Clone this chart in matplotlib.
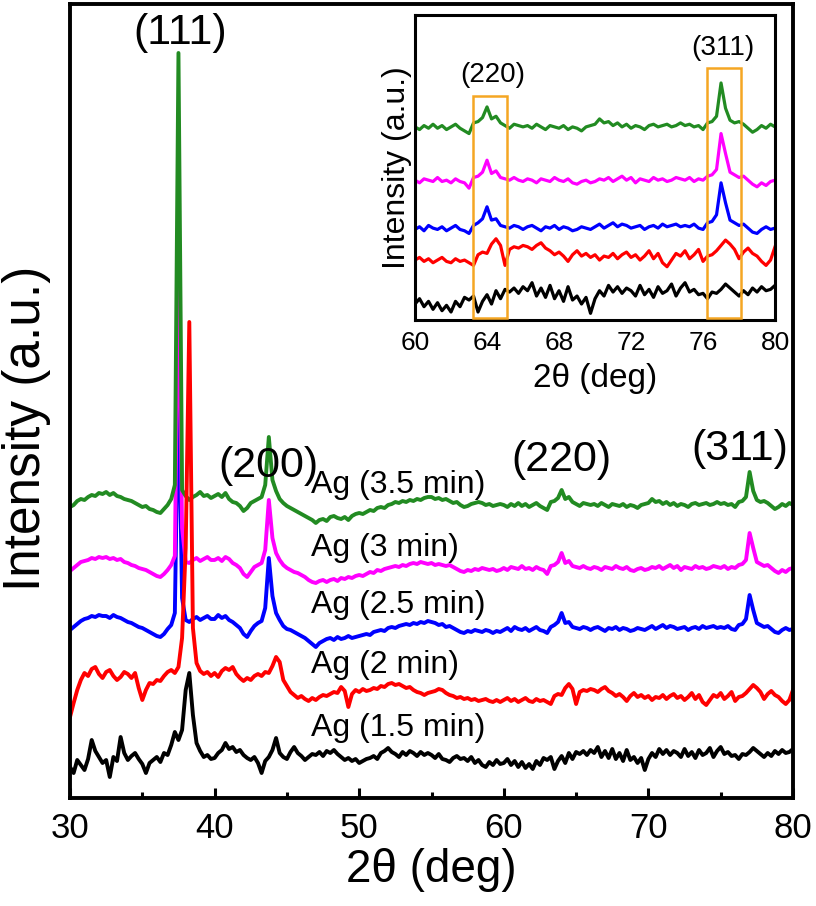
import numpy as np
import matplotlib
matplotlib.use("Agg")
import matplotlib.pyplot as plt
from matplotlib.patches import Rectangle
from matplotlib.ticker import MultipleLocator

## 2theta grid (deg), 0.25 deg steps from 30 to 80
two_theta = np.linspace(30, 80, 201)

## intensities (a.u.), relative to each pattern's flat baseline
ag_35 = [  # green, Ag (3.5 min)
    -2, 0, 4, 6, 5, 8, 10, 9, 12, 11, 13, 10, 12, 9, 8, 6, 5, 4, 2, 0,
    -2, -1, -4, -5, -7, -8, -4, 0, 6, 20, 452, 15, 9, 5, 8, 10, 13, 9, 10, 7,
    9, 11, 8, 12, 6, 3, 2, -1, -6, -3, 2, 4, 6, 8, 20, 68, 25, 14, 6, 2,
    -1, -3, -5, -7, -9, -11, -13, -15, -18, -15, -14, -16, -12, -11, -13, -14, -12, -15, -11, -9,
    -8, -9, -7, -5, -6, -3, -2, -3, 0, 1, 3, 2, 4, 3, 5, 4, 6, 5, 7, 8,
    8, 6, 7, 5, 6, 4, 2, 3, 0, -2, -1, 1, 2, 3, 2, 0, 1, -1, 0, 1,
    0, -2, 1, -1, 2, -1, 1, -2, 0, 2, -1, -3, -5, 3, 4, 7, 15, 6, 8, 3,
    1, -1, 2, 1, 0, 1, -1, 2, 0, -2, 1, 0, -1, 1, -2, 0, -1, -3, 0, 1,
    2, 6, 3, 4, 1, 3, 0, 2, -1, 1, 0, -2, 1, 2, 0, 1, 2, 0, 1, 3,
    1, 2, 0, 1, -2, 3, 4, 8, 33, 14, 5, 3, 4, 2, -1, -4, -2, 1, -1, 2,
    0]
ag_30 = [  # magenta, Ag (3 min)
    -3, 0, 3, 6, 7, 8, 10, 9, 11, 10, 11, 9, 10, 8, 9, 6, 5, 3, 2, 0,
    -1, -2, -4, -6, -8, -9, -6, -2, 3, 12, 318, 40, 6, 5, 8, 10, 7, 9, 11, 8,
    8, 10, 7, 11, 9, 5, 3, 0, -6, -9, -4, 1, 3, 5, 18, 68, 30, 15, 8, 3,
    0, -2, -4, -5, -7, -9, -12, -14, -15, -13, -12, -14, -12, -11, -13, -10, -11, -9, -10, -8,
    -7, -8, -6, -4, -5, -2, -3, -1, 0, 1, 2, 1, 3, 2, 4, 5, 4, 6, 5, 4,
    5, 3, 4, 3, 2, 3, 1, -1, -3, -4, -2, -3, -1, -2, 0, -1, -2, -1, -3, -2,
    0, -2, 1, 0, -1, 2, -1, 0, -2, 1, -1, -2, -6, 2, 3, 6, 15, 5, 7, 2,
    1, 0, 2, 0, -1, 1, 0, -2, 1, 0, -1, 2, 0, -1, 1, -2, -3, -1, 0, -2,
    -1, 1, 0, 2, -1, 1, 3, 0, 2, -2, 1, 0, -1, 2, 0, 1, -1, 0, 2, 1,
    0, 2, -1, 1, 0, 3, 4, 8, 35, 20, 6, 4, 2, 3, 0, -3, -5, -2, -4, -1,
    0]
ag_25 = [  # blue, Ag (2.5 min)
    -2, 1, 4, 7, 9, 10, 12, 11, 13, 12, 12, 10, 13, 11, 10, 8, 6, 5, 3, 1,
    0, -2, -4, -6, -8, -9, -6, -1, 3, 15, 248, 30, 8, 6, 9, 11, 8, 10, 12, 9,
    9, 13, 10, 12, 8, 6, 3, 0, -6, -9, -3, 2, 5, 7, 20, 70, 32, 15, 8, 2,
    -1, -2, -4, -6, -8, -10, -13, -16, -19, -15, -13, -11, -10, -12, -9, -11, -10, -8, -10, -9,
    -8, -7, -6, -7, -4, -3, -2, -3, 0, 1, 0, 2, 3, 4, 3, 5, 4, 6, 5, 7,
    6, 5, 3, 4, 1, 2, 0, -2, -4, -5, -3, -4, -2, -3, -4, -2, -3, -5, -3, -4,
    -2, 0, -3, 1, -1, -2, 0, -3, -1, 1, -2, -3, -5, 1, 3, 6, 15, 5, 6, 1,
    0, -1, 1, 0, -2, 0, 1, -1, -3, 0, -1, 1, -2, 0, -1, -3, -2, 0, -1, -2,
    0, 2, -1, 1, 3, 0, 2, 1, -1, 0, 1, -2, 0, 1, -1, 2, 0, 1, 2, 0,
    1, 0, 2, -1, -2, 3, 4, 9, 33, 18, 5, 3, 1, 2, -1, -4, -5, -2, 0, -2,
    -1]
ag_20 = [  # red, Ag (2 min)
    -19, -5, 8, 18, 25, 22, 29, 31, 24, 20, 26, 28, 22, 18, 21, 26, 24, 20, 25, 10,
    -2, 8, 15, 14, 18, 17, 22, 26, 28, 25, 31, 60, 150, 376, 70, 35, 27, 24, 26, 22,
    25, 21, 27, 30, 28, 31, 24, 20, 17, 20, 18, 22, 24, 22, 26, 25, 32, 41, 36, 18,
    12, 6, 3, 0, 2, -1, -3, 0, -2, 1, 3, 2, 4, 6, 5, 11, 7, -9, 4, 8,
    6, 9, 7, 8, 10, 9, 12, 11, 14, 15, 13, 14, 12, 10, 11, 8, 6, 5, 3, 5,
    6, 7, 9, 8, 5, 3, 2, 0, 1, -1, 0, -2, -1, -3, -2, -1, -3, -4, -2, -4,
    -2, 0, -3, -1, -4, -2, 0, -3, -4, -1, -3, -2, -4, -6, 2, 4, 3, 10, 14, 9,
    -6, 6, 8, 7, 9, 8, 6, 9, 11, 7, 5, 2, 4, 1, -3, 2, 5, 1, 3, 0,
    2, -2, 1, 0, 3, -1, 2, 4, 0, 2, -2, 1, 5, -1, 3, -4, -7, -2, 3, 1,
    5, -1, 2, 6, -3, 1, 2, 5, 9, 13, 10, 6, -1, 4, 7, 3, 1, -3, -6, -2,
    8]
ag_15 = [  # black, Ag (1.5 min)
    -12, -18, -5, -10, -15, -4, 15, 4, -2, -8, -5, -22, -2, -6, 18, 2, -5, -1, 2, -4,
    -9, -18, -8, -5, -2, -7, 2, 0, 10, 23, 15, 25, 65, 82, 40, 12, 4, -2, 0, -4,
    -3, 2, 5, 12, 6, 8, 3, 5, 0, -3, -5, -2, -8, -18, -6, -2, 5, 17, 2, -2,
    -4, 3, 8, 2, -1, -5, -2, 1, 0, 3, -1, 4, 2, 5, 1, -2, -5, -3, -6, -4,
    -8, -6, -4, -3, -1, -4, 2, 4, 7, 3, 1, -2, 3, 0, 4, 2, -1, 3, 0, 2,
    0, -3, 1, -4, -5, -7, -3, -1, -4, -3, -6, -2, -8, -5, -10, -12, -7, -10, -5, -9,
    -8, -4, -10, -6, -12, -7, -13, -9, -14, -6, -10, -3, -5, -2, -14, -6, -1, -8, 2, -4,
    3, 1, 4, 0, 5, 2, 8, -2, 4, -3, 6, -4, 2, -6, 5, -5, -2, -8, -3, -15,
    -4, 2, -2, 6, 1, 5, 0, 4, 2, -2, 6, -1, 3, -3, 5, 0, 2, 7, -2, 4,
    8, 1, 3, -1, 0, -4, 1, 0, 3, 7, 4, 1, -2, 2, -1, 4, 1, 5, 2, 3,
    6]

patterns = [ag_15, ag_20, ag_25, ag_30, ag_35]
sample_labels = ['Ag (1.5 min)', 'Ag (2 min)', 'Ag (2.5 min)', 'Ag (3 min)', 'Ag (3.5 min)']
line_colors = ['black', '#ff0000', '#0000ff', '#ff00ff', '#228b22']
main_offsets = [43, 100, 170, 230, 293]
inset_offsets = [20, 47, 70, 105, 145]

peak_labels = ['(111)', '(200)', '(220)', '(311)']
peak_label_xy = [(37.6, 765), (43.7, 332), (64.0, 338), (76.3, 349)]
sample_label_y = [70, 133, 193, 250, 313]

plt.rcParams['font.family'] = ['Liberation Sans', 'DejaVu Sans']

fig = plt.figure(figsize=(8.16, 9.06), dpi=100)
ax = fig.add_axes([0.0858, 0.1192, 0.886, 0.8764])

# draw order: black, blue, magenta, green, red on top
order = [0, 2, 3, 4, 1]
for i in order:
    ax.plot(two_theta, np.array(patterns[i]) + main_offsets[i], color=line_colors[i], lw=2.8,
            solid_joinstyle='round')

for lab, (px, py) in zip(peak_labels, peak_label_xy):
    ax.text(px, py, lab, fontsize=31, ha='center', va='center')
for lab, ly in zip(sample_labels, sample_label_y):
    ax.text(46.7, ly, lab, fontsize=23, ha='left', va='center')

ax.set_xlim(30, 80)
ax.set_ylim(0, 794)
ax.set_yticks([])
ax.xaxis.set_major_locator(MultipleLocator(10))
ax.xaxis.set_minor_locator(MultipleLocator(5))
ax.tick_params(axis='x', which='major', direction='in', length=7, width=2.2, labelsize=25, pad=10)
ax.tick_params(axis='x', which='minor', direction='in', length=4, width=2.2)
for s in ax.spines.values():
    s.set_linewidth(2.8)
ax.set_xlabel('2\u03b8 (deg)', fontsize=33, labelpad=2)
ax.set_ylabel('Intensity (a.u.)', fontsize=37)
ax.yaxis.set_label_coords(-0.026, 0.465)

## inset: zoom on 60-80 deg
axin = fig.add_axes([0.5086, 0.6468, 0.4412, 0.3366])
for i in order:
    axin.plot(two_theta, np.array(patterns[i]) + inset_offsets[i], color=line_colors[i], lw=2.3)
axin.set_xlim(60, 80)
axin.set_ylim(0, 229)
axin.set_yticks([])
axin.set_xticks([60, 64, 68, 72, 76, 80])
axin.tick_params(axis='x', length=0, labelsize=19, pad=8)
for s in axin.spines.values():
    s.set_linewidth(2.2)
box_color = '#f5a623'
axin.add_patch(Rectangle((63.2, 1.5), 1.9, 166.5, fill=False, ec=box_color, lw=1.8, zorder=5))
axin.add_patch(Rectangle((76.2, 1.5), 1.9, 188.0, fill=False, ec=box_color, lw=1.8, zorder=5))
axin.text(64.3, 184, '(220)', fontsize=20, ha='center', va='center')
axin.text(77.1, 204.5, '(311)', fontsize=20, ha='center', va='center')
axin.set_xlabel('2\u03b8 (deg)', fontsize=24, labelpad=6)
axin.set_ylabel('Intensity (a.u.)', fontsize=23, labelpad=2)

fig.savefig('out.png', dpi=100)
